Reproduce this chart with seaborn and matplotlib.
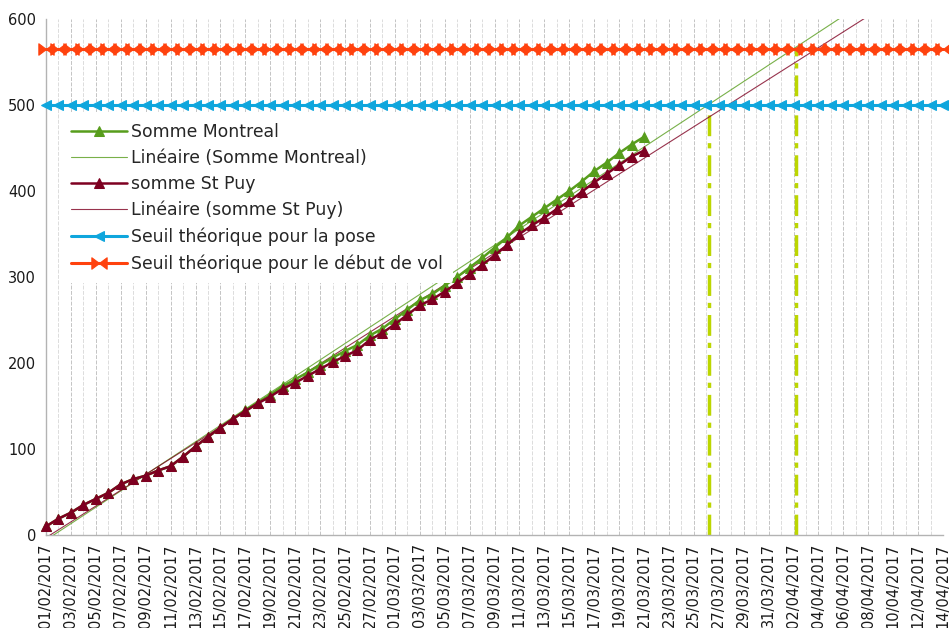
import numpy as np
import pandas as pd
import matplotlib.pyplot as plt
import matplotlib.dates as mdates
from matplotlib.path import Path
import seaborn as sns

start = pd.Timestamp("2017-02-01")
end = pd.Timestamp("2017-04-14")

montreal = [10, 19, 26, 35, 42, 49, 59, 65, 69, 75, 80, 91, 103, 114, 125, 135, 145,
            154, 163, 173, 181, 189, 198, 206, 214, 221, 232, 240, 251, 262, 273, 280,
            290, 300, 311, 322, 334, 346, 360, 370, 380, 390, 400, 411, 423, 433, 444,
            454, 463]
st_puy = [10, 19, 26, 35, 42, 49, 59, 65, 69, 75, 80, 91, 103, 114, 125, 135, 144,
          153, 161, 170, 177, 185, 193, 201, 208, 215, 227, 235, 245, 256, 267, 274,
          283, 293, 303, 314, 325, 337, 350, 360, 369, 379, 388, 399, 410, 420, 430,
          440, 447]
seuil_pose = 500
seuil_vol = 565
# dates marked by the vertical dash-dot lines (day offsets from 01/02)
mark_days = [53.2, 60.2]
mark_tops = [seuil_pose, seuil_vol]

c_green = "#579d1c"
c_maroon = "#7e0021"
c_blue = "#0fa6dd"
c_red = "#ff420e"
c_mark = "#bcd600"

dates_obs = pd.date_range(start, periods=len(montreal), freq="D")
dates_all = pd.date_range(start, end, freq="D")
df = pd.DataFrame({"date": dates_obs, "montreal": montreal, "st_puy": st_puy})
thr = pd.DataFrame({"date": dates_all,
                    "pose": [seuil_pose] * len(dates_all),
                    "vol": [seuil_vol] * len(dates_all)})

sns.set_style("white")
plt.rcParams["font.family"] = ["DejaVu Sans"]

# two triangles meeting at their tips
bowtie = Path([(-1, -0.75), (0, 0), (-1, 0.75), (-1, -0.75),
               (1, -0.75), (0, 0), (1, 0.75), (1, -0.75)],
              [Path.MOVETO, Path.LINETO, Path.LINETO, Path.CLOSEPOLY,
               Path.MOVETO, Path.LINETO, Path.LINETO, Path.CLOSEPOLY])

fig = plt.figure(figsize=(9.49, 6.28), dpi=100)
ax = fig.add_axes([46 / 949, 93 / 628, 897 / 949, 516 / 628])

# linear trends
t_obs = np.arange(len(montreal))
t_all = np.arange(len(dates_all))
pm = np.polyfit(t_obs, montreal, 1)
ps = np.polyfit(t_obs, st_puy, 1)

sns.lineplot(data=thr, x="date", y="pose", ax=ax, color=c_blue, lw=2.2,
             marker="<", markersize=6.5, markeredgecolor=c_blue, clip_on=False,
             label="Seuil théorique pour la pose", zorder=4)
sns.lineplot(data=thr, x="date", y="vol", ax=ax, color=c_red, lw=2.2,
             marker=bowtie, markersize=11, markeredgecolor=c_red, markeredgewidth=0.8,
             clip_on=False, label="Seuil théorique pour le début de vol", zorder=4)
ax.plot(dates_all, np.polyval(pm, t_all), color=c_green, lw=0.8, alpha=0.8,
        label="Linéaire (Somme Montreal)", zorder=3)
ax.plot(dates_all, np.polyval(ps, t_all), color=c_maroon, lw=0.8, alpha=0.8,
        label="Linéaire (somme St Puy)", zorder=3)
sns.lineplot(data=df, x="date", y="montreal", ax=ax, color=c_green, lw=1.8,
             marker="^", markersize=7.5, markeredgecolor=c_green, clip_on=False,
             label="Somme Montreal", zorder=5)
sns.lineplot(data=df, x="date", y="st_puy", ax=ax, color=c_maroon, lw=1.8,
             marker="^", markersize=7.5, markeredgecolor=c_maroon, clip_on=False,
             label="somme St Puy", zorder=5)

for d, top in zip(mark_days, mark_tops):
    ax.plot([start + pd.Timedelta(days=d)] * 2, [0, top], color=c_mark, lw=2.5,
            dashes=(6, 2, 1.5, 2), clip_on=False, zorder=2)

ax.set_xlim(start, end)
ax.set_ylim(0, 600)
ax.set_yticks(range(0, 601, 100))
ax.set_xticks(pd.date_range(start, end, freq="2D"))
ax.set_xticks(dates_all, minor=True)
ax.xaxis.set_major_formatter(mdates.DateFormatter("%d/%m/%Y"))
ax.tick_params(axis="x", which="major", labelrotation=90, labelsize=10.5,
               length=4, color="#b3b3b3", pad=2, labelcolor="#1a1a1a")
ax.tick_params(axis="x", which="minor", length=4, color="#b3b3b3")
ax.tick_params(axis="y", labelsize=10.5, length=5, color="#b3b3b3", pad=2,
               labelcolor="#1a1a1a")
ax.grid(axis="x", which="major", color="#c4c4c4", lw=0.7, ls=(0, (4, 1.5)))
ax.grid(axis="x", which="minor", color="#dcdcdc", lw=0.7, ls=(0, (4, 1.5)))
ax.grid(axis="y", visible=False)
ax.set_xlabel("")
ax.set_ylabel("")
for s in ["top", "right"]:
    ax.spines[s].set_visible(False)
for s in ["left", "bottom"]:
    ax.spines[s].set_color("#b3b3b3")
    ax.spines[s].set_linewidth(1)

handles, labels = ax.get_legend_handles_labels()
lookup = dict(zip(labels, handles))
order = ["Somme Montreal", "Linéaire (Somme Montreal)", "somme St Puy",
         "Linéaire (somme St Puy)", "Seuil théorique pour la pose",
         "Seuil théorique pour le début de vol"]
leg = ax.legend([lookup[k] for k in order], order, loc="upper left",
                bbox_to_anchor=(0.012, 0.826), fontsize=12.4, frameon=True,
                facecolor="white", edgecolor="none", framealpha=1,
                handlelength=3.3, labelspacing=0.47, borderpad=0.6,
                handletextpad=0.2, borderaxespad=0.2)
leg.set_zorder(6)

fig.savefig("out.png", dpi=100)
